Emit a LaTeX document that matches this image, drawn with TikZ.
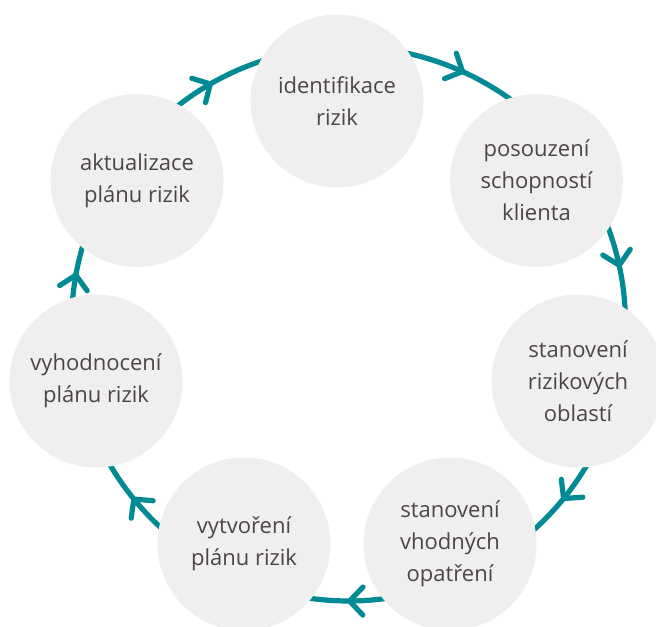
\documentclass[tikz,border=0pt]{standalone}
\usepackage{fontspec}
\setmainfont{Open Sans}
\usetikzlibrary{calc,arrows.meta,decorations.markings,backgrounds}
\definecolor{tyrkys}{RGB}{0,138,148}
\definecolor{svetla}{RGB}{239,239,239}
\definecolor{popis}{RGB}{77,68,70}

\begin{document}
\begin{tikzpicture}[
  x=0.75pt, y=0.75pt,
  krok/.style={circle, fill=svetla, minimum size=129.75pt, inner sep=0pt,
               align=center, text=popis, font=\fontsize{16.5}{24}\selectfont},
  kruh/.style={draw=tyrkys, line width=3.9pt, postaction={decorate},
               decoration={markings, mark=at position 0.5 with
                 {\arrow{Straight Barb[length=10pt, width=21pt, round]}}}}
]
\useasboundingbox (0,0) rectangle (656,626);

% centre of the cycle
\coordinate (stred) at (348.5,302);

% steps
\node[krok] (ident)    at (337,525)   {identifikace \\ rizik};
\node[krok] (posouz)   at (536.5,445.5) {posouzení \\ schopností \\ klienta};
\node[krok] (oblasti)  at (578,245)   {stanovení \\ rizikových \\ oblastí};
\node[krok] (opatreni) at (450,82)    {stanovení \\ vhodných \\ opatření};
\node[krok] (vytvor)   at (244,82)    {vytvoření \\ plánu rizik};
\node[krok] (vyhodn)   at (96,245)    {vyhodnocení \\ plánu rizik};
\node[krok] (aktual)   at (137,445.5) {aktualizace \\ plánu rizik};

% arcs of the cycle, behind the steps
\begin{pgfonlayer}{background}
\draw[kruh] let \p1=($(aktual)-(stred)$), \p2=($(ident)-(stred)$),
  \n1={atan2(\y1,\x1)}, \n2={atan2(\y2,\x2)} in
  ($(stred)+(\n1:207.75pt)$) arc[start angle=\n1, end angle=\n2, radius=207.75pt];
\draw[kruh] let \p1=($(ident)-(stred)$), \p2=($(posouz)-(stred)$),
  \n1={atan2(\y1,\x1)}, \n2={atan2(\y2,\x2)} in
  ($(stred)+(\n1:207.75pt)$) arc[start angle=\n1, end angle=\n2, radius=207.75pt];
\draw[kruh] let \p1=($(posouz)-(stred)$), \p2=($(oblasti)-(stred)$),
  \n1={atan2(\y1,\x1)}, \n2={atan2(\y2,\x2)} in
  ($(stred)+(\n1:207.75pt)$) arc[start angle=\n1, end angle=\n2, radius=207.75pt];
\draw[kruh] let \p1=($(oblasti)-(stred)$), \p2=($(opatreni)-(stred)$),
  \n1={atan2(\y1,\x1)}, \n2={atan2(\y2,\x2)} in
  ($(stred)+(\n1:207.75pt)$) arc[start angle=\n1, end angle=\n2, radius=207.75pt];
\draw[kruh] let \p1=($(opatreni)-(stred)$), \p2=($(vytvor)-(stred)$),
  \n1={atan2(\y1,\x1)}, \n2={atan2(\y2,\x2)} in
  ($(stred)+(\n1:207.75pt)$) arc[start angle=\n1, end angle=\n2, radius=207.75pt];
\draw[kruh] let \p1=($(vytvor)-(stred)$), \p2=($(vyhodn)-(stred)$),
  \n1={atan2(\y1,\x1)}, \n2={atan2(\y2,\x2)} in
  ($(stred)+(\n1:207.75pt)$) arc[start angle=\n1, end angle=\n2, radius=207.75pt];
\draw[kruh] let \p1=($(vyhodn)-(stred)$), \p2=($(aktual)-(stred)$),
  \n1={atan2(\y1,\x1)+360}, \n2={atan2(\y2,\x2)} in
  ($(stred)+(\n1:207.75pt)$) arc[start angle=\n1, end angle=\n2, radius=207.75pt];
\end{pgfonlayer}

\end{tikzpicture}
\end{document}
